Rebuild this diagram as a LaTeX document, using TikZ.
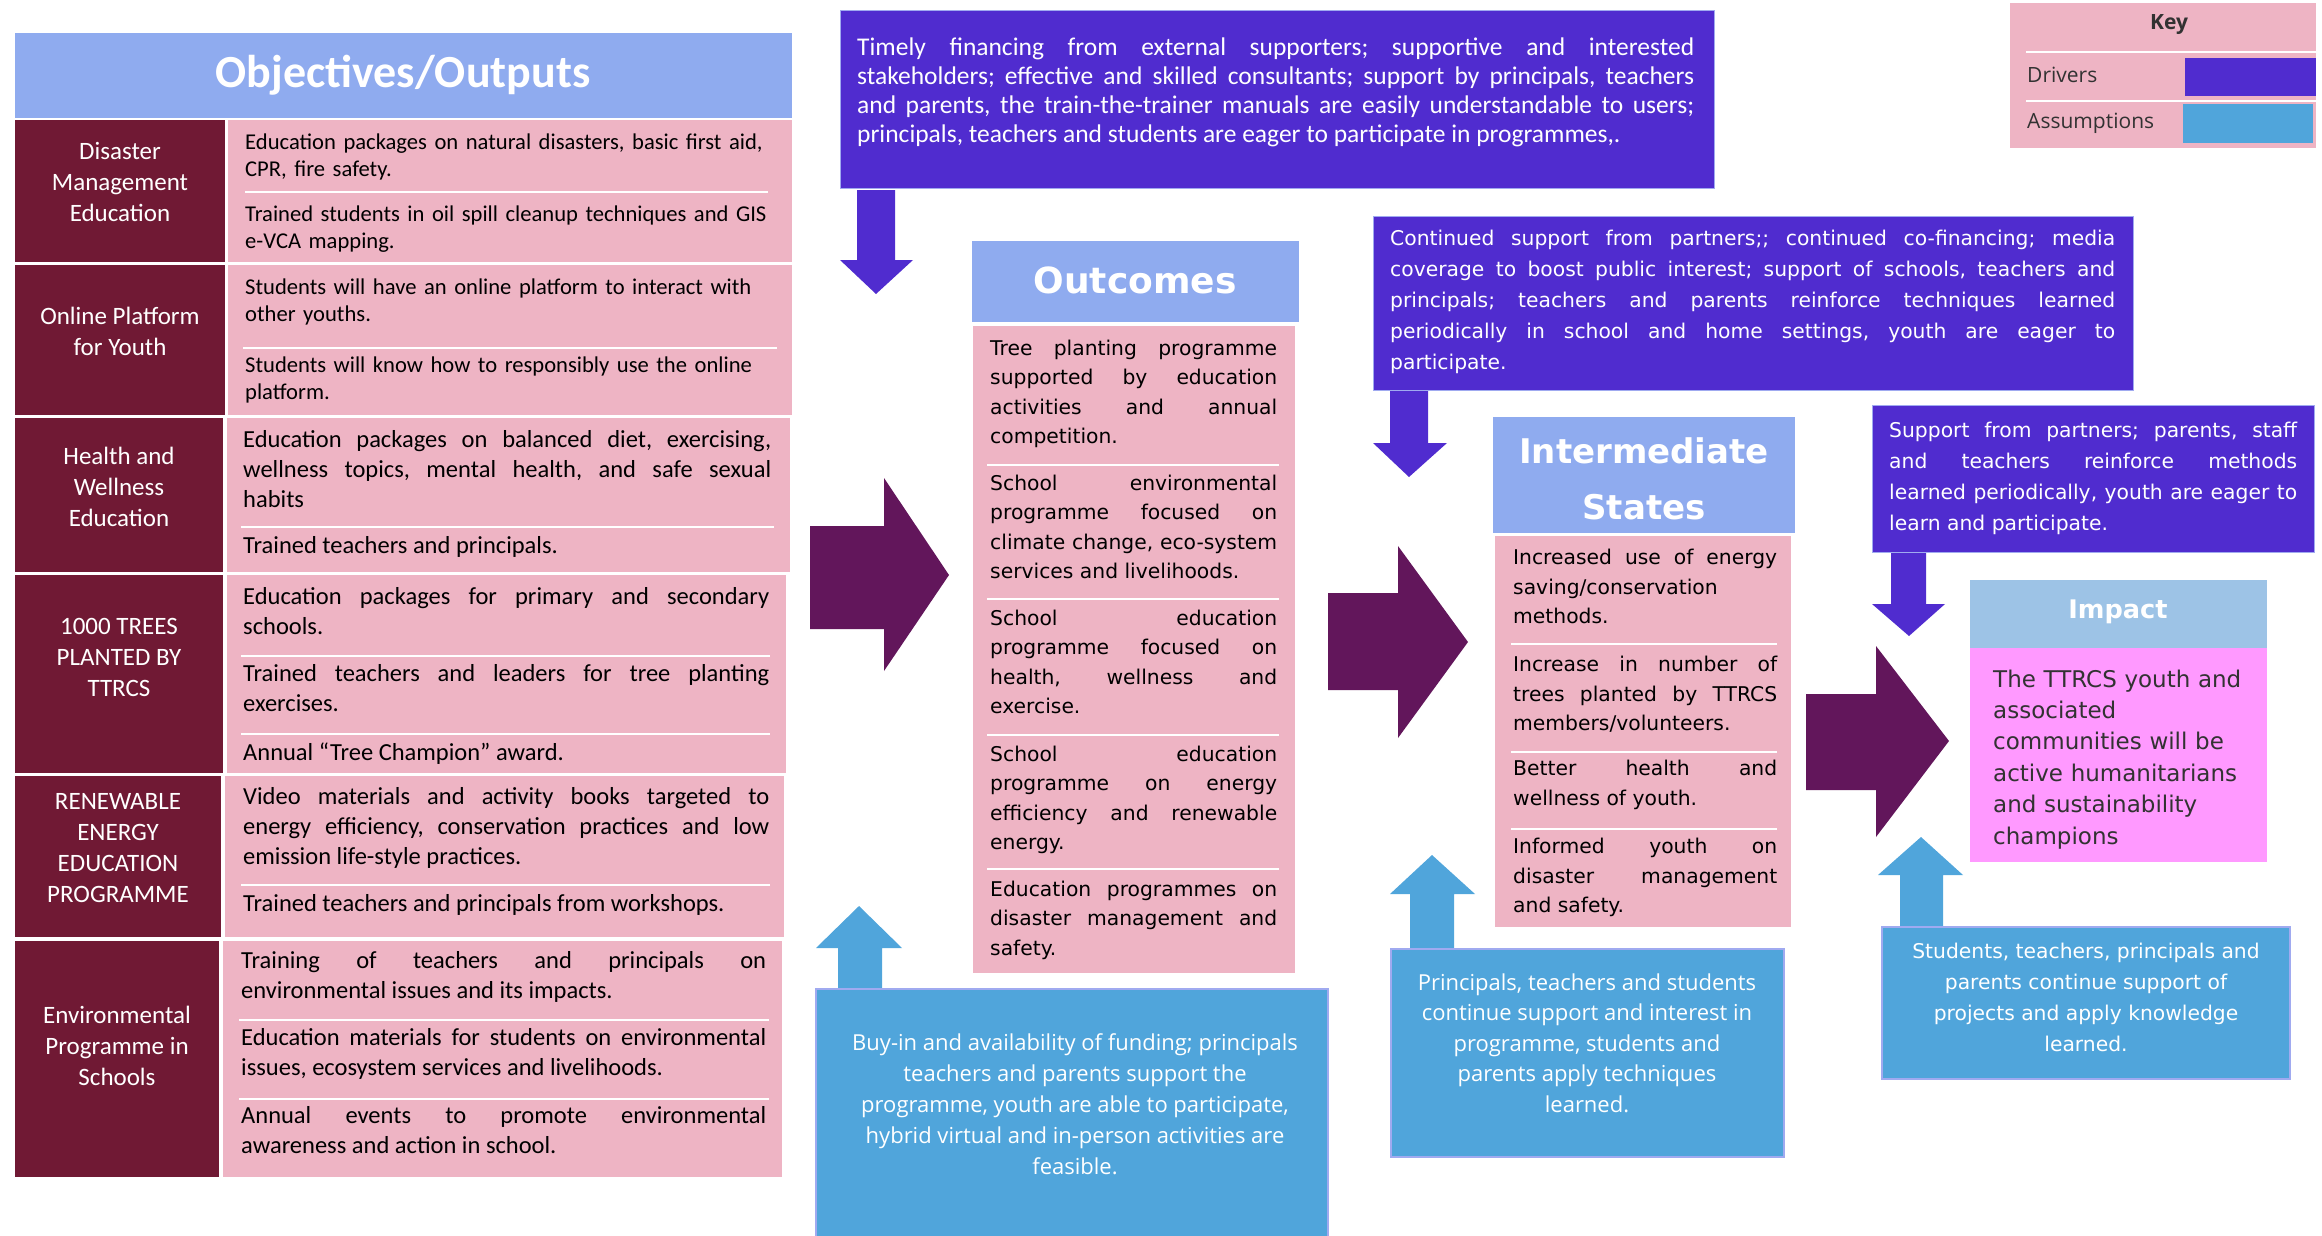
\documentclass[tikz,border=0pt]{standalone}
\usepackage{fontspec}
\setmainfont{Carlito}
\newfontfamily\verd{DejaVu Sans}
\newfontfamily\osans{Open Sans}
\tolerance=10000
\hbadness=10000
\hyphenpenalty=10000
\frenchspacing
\definecolor{hdrblue}{RGB}{143,171,239}
\definecolor{impblue}{RGB}{157,195,230}
\definecolor{maroon}{RGB}{112,25,52}
\definecolor{cellpink}{RGB}{238,180,196}
\definecolor{drvpurple}{RGB}{80,44,207}
\definecolor{asmblue}{RGB}{80,165,219}
\definecolor{boxedge}{RGB}{160,170,240}
\definecolor{flowpurple}{RGB}{98,22,91}
\definecolor{imppink}{RGB}{255,153,255}
\definecolor{darktxt}{RGB}{50,50,50}
\tikzset{
  objtxt/.style={inner sep=0pt, anchor=base west, text width=#1, align=justify,
    font=\fontsize{24.5}{30}\selectfont},
  objtxtsm/.style={inner sep=0pt, anchor=base west, text width=#1, align=left,
    font=\fontsize{22.6}{26.5}\selectfont},
  objlbl/.style={inner sep=0pt, align=center, text=white,
    font=\fontsize{25}{31}\selectfont},
  vertxt/.style={inner sep=0pt, anchor=base west, text width=#1, align=justify,
    font=\verd\fontsize{20.3}{29.5}\selectfont},
  drvtxt/.style={inner sep=0pt, anchor=base west, text width=#1, align=justify,
    text=white, font=\verd\fontsize{20.3}{31}\selectfont},
  asmtxt/.style={inner sep=0pt, align=center, text=white,
    font=\osans\fontsize{22}{31}\selectfont},
  hdrtxt/.style={inner sep=0pt, align=center, text=white},
  keytxt/.style={inner sep=0pt, text=darktxt, font=\osans\fontsize{21}{25}\selectfont},
  sepline/.style={white, line width=2pt},
  drvbox/.style={fill=drvpurple, draw=boxedge, line width=1pt},
  asmbox/.style={fill=asmblue, draw=boxedge, line width=1.5pt},
}
\begin{document}
\begin{tikzpicture}[x=1pt, y=-1pt]
\useasboundingbox (0,0) rectangle (2322,1235);

% Objectives / Outputs
\fill[hdrblue] (15,33) rectangle (792,118);
\node[hdrtxt, font=\fontsize{46}{50}\selectfont\bfseries] (objhdr) at (403,75) {Objectives/Outputs};

\fill[maroon] (15,120) rectangle (225,262);
\fill[cellpink] (228,120) rectangle (792,262);
\draw[sepline] (245,192) -- (768,192);
\node[objlbl] (lbldis) at (120,182) {Disaster\\Management\\Education};
\node[objtxtsm=542] (r1a) at (245,149.5) {Education packages on natural disasters, basic first aid,\\CPR, fire safety.};
\node[objtxtsm=542] (r1b) at (245,221.5) {Trained students in oil spill cleanup techniques and GIS\\e-VCA mapping.};

\fill[maroon] (15,265) rectangle (225,415);
\fill[cellpink] (228,265) rectangle (792,415);
\draw[sepline] (243,348) -- (777,348);
\node[objlbl] (lblonl) at (120,331) {Online Platform\\for Youth};
\node[objtxtsm=542] (r2a) at (245,294.5) {Students will have an online platform to interact with\\other youths.};
\node[objtxtsm=542] (r2b) at (245,372.5) {Students will know how to responsibly use the online\\platform.};

\fill[maroon] (15,418) rectangle (223,572);
\fill[cellpink] (227,418) rectangle (790,572);
\draw[sepline] (241,527) -- (774,527);
\node[objlbl] (lblhea) at (119,487) {Health and\\Wellness\\Education};
\node[objtxt=528] (r3a) at (243,447.6) {Education packages on balanced diet, exercising,\linebreak wellness topics, mental health, and safe sexual\linebreak habits};
\node[objtxt=528] (r3b) at (243,553.6) {Trained teachers and principals.};

\fill[maroon] (15,575) rectangle (223,773);
\fill[cellpink] (227,575) rectangle (786,773);
\draw[sepline] (241,656) -- (770,656);
\draw[sepline] (241,734) -- (770,734);
\node[objlbl] (lbltre) at (119,657) {1000 TREES\\PLANTED BY\\TTRCS};
\node[objtxt=526] (r4a) at (243,604.6) {Education packages for primary and secondary\linebreak schools.};
\node[objtxt=526] (r4b) at (243,681.6) {Trained teachers and leaders for tree planting\linebreak exercises.};
\node[objtxt=526] (r4c) at (243,760.6) {Annual “Tree Champion” award.};

\fill[maroon] (15,776) rectangle (221,937);
\fill[cellpink] (225,776) rectangle (784,937);
\draw[sepline] (241,885) -- (770,885);
\node[objlbl] (lblren) at (118,848) {RENEWABLE\\ENERGY\\EDUCATION\\PROGRAMME};
\node[objtxt=526] (r5a) at (243,804.6) {Video materials and activity books targeted to\linebreak energy efficiency, conservation practices and low\linebreak emission life-style practices.};
\node[objtxt=526] (r5b) at (243,911.6) {Trained teachers and principals from workshops.};

\fill[maroon] (15,941) rectangle (219,1177);
\fill[cellpink] (223,941) rectangle (782,1177);
\draw[sepline] (239,1020) -- (769,1020);
\draw[sepline] (239,1099) -- (769,1099);
\node[objlbl] (lblenv) at (117,1046) {Environmental\\Programme in\\Schools};
\node[objtxt=525] (r6a) at (241,968.6) {Training of teachers and principals on\linebreak environmental issues and its impacts.};
\node[objtxt=525] (r6b) at (241,1045.6) {Education materials for students on environmental\linebreak issues, ecosystem services and livelihoods.};
\node[objtxt=525] (r6c) at (241,1123.6) {Annual events to promote environmental\linebreak awareness and action in school.};

% drivers (top row)
\filldraw[drvbox] (840,10) rectangle (1714,188);
\node[inner sep=0pt, anchor=base west, text width=837, align=justify, text=white,
  font=\fontsize{25.5}{29.3}\selectfont] (drv1) at (857,55) {Timely financing from external supporters; supportive and interested\linebreak stakeholders; effective and skilled consultants; support by principals, teachers\linebreak and parents, the train-the-trainer manuals are easily understandable to users;\linebreak principals, teachers and students are eager to participate in programmes,.};
\fill[drvpurple] (857,190) -- (857,260) -- (840,260) -- (876,294) -- (913,260) -- (895,260) -- (895,190) -- cycle;

\filldraw[drvbox] (1373,216) rectangle (2133,390);
\node[drvtxt=725] (drv2) at (1390,245) {Continued support from partners;; continued co-financing; media\linebreak coverage to boost public interest; support of schools, teachers and\linebreak principals; teachers and parents reinforce techniques learned\linebreak periodically in school and home settings, youth are eager to\linebreak participate.};
\fill[drvpurple] (1390,391) -- (1390,443) -- (1373,443) -- (1409,477) -- (1447,443) -- (1428,443) -- (1428,391) -- cycle;

\filldraw[drvbox] (1872,405) rectangle (2314,552);
\node[drvtxt=408] (drv3) at (1889,437) {Support from partners; parents, staff\linebreak and teachers reinforce methods\linebreak learned periodically, youth are eager to\linebreak learn and participate.};
\fill[drvpurple] (1891,553) -- (1891,604) -- (1872,604) -- (1909,636) -- (1945,604) -- (1926,604) -- (1926,553) -- cycle;

% Outcomes
\fill[hdrblue] (972,241) rectangle (1299,322);
\node[hdrtxt, font=\verd\fontsize{36}{40}\selectfont\bfseries] (outhdr) at (1135,280) {Outcomes};
\fill[cellpink] (973,326) rectangle (1295,973);
\draw[sepline] (987,465) -- (1279,465);
\draw[sepline] (987,599) -- (1279,599);
\draw[sepline] (987,735) -- (1279,735);
\draw[sepline] (987,869) -- (1279,869);
\node[vertxt=287] (out1) at (990,355) {Tree planting programme\linebreak supported by education\linebreak activities and annual\linebreak competition.};
\node[vertxt=287] (out2) at (990,490) {School environmental\linebreak programme focused on\linebreak climate change, eco-system\linebreak services and livelihoods.};
\node[vertxt=287] (out3) at (990,625) {School education\linebreak programme focused on\linebreak health, wellness and\linebreak exercise.};
\node[vertxt=287] (out4) at (990,761) {School education\linebreak programme on energy\linebreak efficiency and renewable\linebreak energy.};
\node[vertxt=287] (out5) at (990,896) {Education programmes on\linebreak disaster management and\linebreak safety.};

% Intermediate States
\fill[hdrblue] (1493,417) rectangle (1795,533);
\node[hdrtxt, font=\verd\fontsize{34}{56}\selectfont\bfseries] (inthdr) at (1644,479) {Intermediate\\States};
\fill[cellpink] (1495,536) rectangle (1791,927);
\draw[sepline] (1511,644) -- (1777,644);
\draw[sepline] (1511,752) -- (1777,752);
\draw[sepline] (1511,829) -- (1777,829);
\node[vertxt=264] (int1) at (1513,564.5) {Increased use of energy\linebreak saving/conservation\\methods.};
\node[vertxt=264] (int2) at (1513,671.5) {Increase in number of\linebreak trees planted by TTRCS\linebreak members/volunteers.};
\node[vertxt=264] (int3) at (1513,775.5) {Better health and\linebreak wellness of youth.};
\node[vertxt=264] (int4) at (1513,853.5) {Informed youth on\linebreak disaster management\linebreak and safety.};

% Impact
\fill[impblue] (1970,580) rectangle (2267,648);
\node[hdrtxt, font=\verd\fontsize{25.6}{30}\selectfont\bfseries] (imphdr) at (2118,612) {Impact};
\fill[imppink] (1970,648) rectangle (2267,862);
\node[inner sep=0pt, anchor=base west, text width=272, align=left, text=darktxt,
  font=\verd\fontsize{23}{31.4}\selectfont] (imptxt) at (1993,687) {The TTRCS youth and\\associated\\communities will be\\active humanitarians\\and sustainability\\champions};

% flow arrows
\fill[flowpurple] (810,526) -- (884,526) -- (884,478) -- (949,575) -- (884,671) -- (884,629) -- (810,629) -- cycle;
\fill[flowpurple] (1328,593) -- (1398,593) -- (1398,546) -- (1468,642) -- (1398,738) -- (1398,690) -- (1328,690) -- cycle;
\fill[flowpurple] (1806,694) -- (1876,694) -- (1876,646) -- (1949,741) -- (1876,837) -- (1876,790) -- (1806,790) -- cycle;

% assumptions
\fill[asmblue] (838,991) -- (838,948) -- (816,948) -- (859,906) -- (902,948) -- (882,948) -- (882,991) -- cycle;
\filldraw[asmbox] (816,989) rectangle (1328,1240);
\node[asmtxt] (asm1) at (1075,1104) {Buy-in and availability of funding; principals\\teachers and parents support the\\programme, youth are able to participate,\\hybrid virtual and in-person activities are\\feasible.};

\fill[asmblue] (1410,950) -- (1410,894) -- (1390,894) -- (1432,855) -- (1475,894) -- (1454,894) -- (1454,950) -- cycle;
\filldraw[asmbox] (1391,949) rectangle (1784,1157);
\node[asmtxt, font=\osans\fontsize{22}{30.5}\selectfont] (asm2) at (1587,1043) {Principals, teachers and students\\continue support and interest in\\programme, students and\\parents apply techniques\\learned.};

\fill[asmblue] (1900,928) -- (1900,875) -- (1878,875) -- (1921,837) -- (1963,875) -- (1943,875) -- (1943,928) -- cycle;
\filldraw[asmbox] (1882,927) rectangle (2290,1079);
\node[asmtxt, font=\verd\fontsize{20.3}{31}\selectfont] (asm3) at (2086,997) {Students, teachers, principals and\\parents continue support of\\projects and apply knowledge\\learned.};

% key
\fill[cellpink] (2010,3) rectangle (2316,148);
\draw[sepline] (2026,52) -- (2316,52);
\draw[sepline] (2026,101) -- (2316,101);
\fill[drvpurple] (2185,58) rectangle (2316,96);
\fill[asmblue] (2183,104) rectangle (2313,143);
\node[keytxt, font=\osans\fontsize{21}{25}\selectfont\bfseries] (keyttl) at (2169,25) {Key};
\node[keytxt, anchor=west] (keydrv) at (2027,75) {Drivers};
\node[keytxt, anchor=west] (keyasm) at (2027,123) {Assumptions};
\end{tikzpicture}
\end{document}
